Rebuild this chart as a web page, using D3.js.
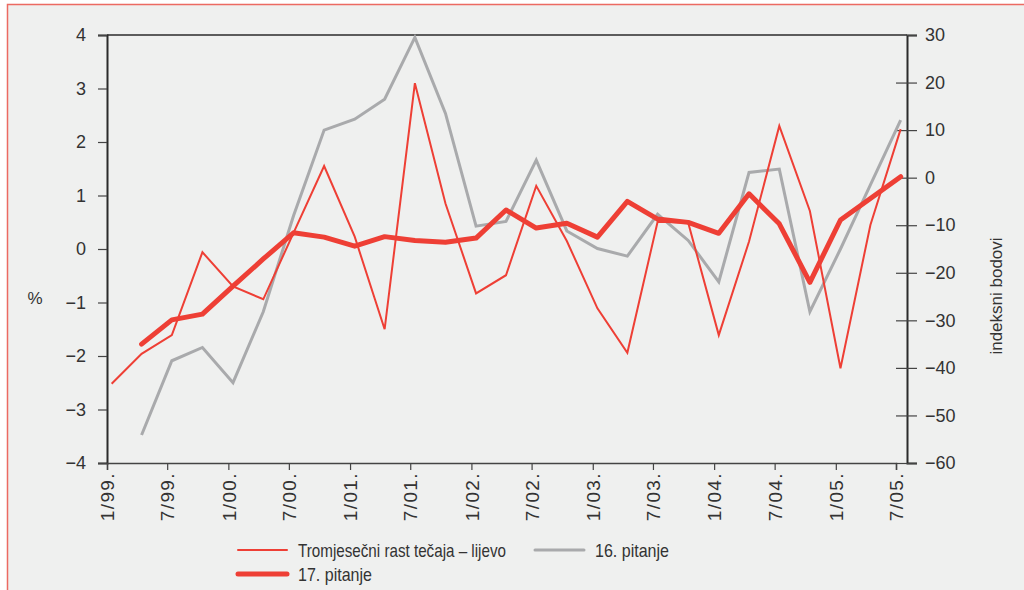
<!DOCTYPE html>
<html lang="hr">
<head>
<meta charset="UTF-8">
<title>Tečaj i očekivanja</title>
<script src="https://d3js.org/d3.v7.min.js"></script>
<style>
  html, body { margin: 0; padding: 0; background: #ffffff; }
  svg { display: block; font-family: "Liberation Sans", Arial, sans-serif; }
  .tick text { fill: #333; }
</style>
</head>
<body>
<svg id="chart" width="1024" height="590"></svg>
<script>
// quarterly observations (month/year)
const quarters = ["1/99","4/99","7/99","10/99","1/00","4/00","7/00","10/00","1/01","4/01","7/01","10/01",
                  "1/02","4/02","7/02","10/02","1/03","4/03","7/03","10/03","1/04","4/04","7/04","10/04",
                  "1/05","4/05","7/05"];
// Tromjesečni rast tečaja (%), left axis
const rastTecaja = [-2.52, -1.96, -1.61, -0.06, -0.70, -0.94, 0.30, 1.55, 0.23, -1.50, 3.10, 0.85,
                    -0.83, -0.49, 1.18, 0.15, -1.11, -1.94, 0.51, 0.49, -1.61, 0.14, 2.30, 0.71,
                    -2.23, 0.45, 2.24];
// 16. pitanje (indeksni bodovi), right axis
const pitanje16 = [null, -54.1, -38.5, -35.7, -43.1, -28.2, -8.0, 10.0, 12.3, 16.5, 29.5, 13.5,
                   -10.2, -9.2, 3.7, -11.2, -14.9, -16.5, -7.7, -13.2, -21.9, 1.1, 1.8, -28.2,
                   -15.0, -1.5, 12.1];
// 17. pitanje (indeksni bodovi), right axis
const pitanje17 = [null, -35.0, -29.9, -28.7, -22.8, -17.1, -11.6, -12.5, -14.4, -12.4, -13.2, -13.6,
                   -12.7, -6.8, -10.6, -9.6, -12.5, -5.0, -8.7, -9.4, -11.7, -3.4, -9.7, -22.0,
                   -8.9, -4.4, 0.2];
const leftTicks = [-4, -3, -2, -1, 0, 1, 2, 3, 4];
const rightTicks = [-60, -50, -40, -30, -20, -10, 0, 10, 20, 30];
const xTickLabels = ["1/99","7/99","1/00","7/00","1/01","7/01","1/02","7/02","1/03","7/03","1/04","7/04","1/05","7/05"];

const parseQ = s => { const [m, y] = s.split("/"); return new Date(2000 + (+y > 50 ? +y - 100 : +y), +m - 1, 15); };
const parseT = s => { const [m, y] = s.split("/"); return new Date(2000 + (+y > 50 ? +y - 100 : +y), +m - 1, 1); };

const svg = d3.select("#chart");
const red = "#ee3f35", grey = "#a9aaac", ink = "#2b2b2b";

// panel background and frame
svg.append("rect").attr("x", 7.5).attr("y", 4.5).attr("width", 1030).attr("height", 600)
   .attr("fill", "#eff0ef").attr("stroke", "#ec6a62").attr("stroke-width", 1.5);

const pLeft = 107, pRight = 907, pTop = 35, pBottom = 463;
const x = d3.scaleTime().domain([parseT("1/99"), parseT("7/05")]).range([pLeft, 896]);
const yL = d3.scaleLinear().domain([-4, 4]).range([pBottom, pTop]);
const yR = d3.scaleLinear().domain([-60, 30]).range([pBottom, pTop]);

// top frame line
svg.append("line").attr("x1", pLeft).attr("x2", pRight).attr("y1", pTop).attr("y2", pTop)
   .attr("stroke", ink).attr("stroke-width", 1.5);

// left axis
const gL = svg.append("g").attr("transform", `translate(${pLeft},0)`)
  .call(d3.axisLeft(yL).tickValues(leftTicks).tickSize(9).tickPadding(12));
gL.selectAll("text").attr("font-size", 18);

// right axis (ticks cross the line)
const gR = svg.append("g").attr("transform", `translate(${pRight},0)`)
  .call(d3.axisRight(yR).tickValues(rightTicks).tickSize(10).tickPadding(8));
gR.selectAll(".tick").filter(d => d !== 30).append("line")
  .attr("x1", -11).attr("x2", 0).attr("stroke", "currentColor");
gR.selectAll("text").attr("font-size", 18);

// bottom axis
const gB = svg.append("g").attr("transform", `translate(0,${pBottom})`)
  .call(d3.axisBottom(x).tickValues(xTickLabels.map(parseT)).tickSize(7)
        .tickFormat((d, i) => xTickLabels[i] + "."));
gB.selectAll("text").attr("font-size", 19).attr("letter-spacing", "1.4px")
  .attr("transform", "rotate(-90)").attr("text-anchor", "end")
  .attr("x", -9).attr("y", 0).attr("dy", "0.35em");

[gL, gR, gB].forEach(g => {
  g.selectAll(".domain").attr("stroke", ink).attr("stroke-width", 2);
  g.selectAll(".tick line").attr("stroke", "#444").attr("stroke-width", 1.2);
  g.selectAll("text").attr("fill", "#333");
});
gB.select(".domain").attr("stroke-width", 1.5).attr("stroke", "#444");

// series
const pts = quarters.map(parseQ);
const lineL = d3.line().defined(d => d[1] != null).x(d => x(d[0])).y(d => yL(d[1]));
const lineR = d3.line().defined(d => d[1] != null).x(d => x(d[0])).y(d => yR(d[1]));

svg.append("path").datum(pts.map((d, i) => [d, pitanje16[i]])).attr("d", lineR)
   .attr("fill", "none").attr("stroke", grey).attr("stroke-width", 3);
svg.append("path").datum(pts.map((d, i) => [d, rastTecaja[i]])).attr("d", lineL)
   .attr("fill", "none").attr("stroke", red).attr("stroke-width", 2);
svg.append("path").datum(pts.map((d, i) => [d, pitanje17[i]])).attr("d", lineR)
   .attr("fill", "none").attr("stroke", red).attr("stroke-width", 5)
   .attr("stroke-linecap", "round").attr("stroke-linejoin", "round");

// axis titles
svg.append("text").attr("x", 35).attr("y", 304).attr("text-anchor", "middle")
   .attr("font-size", 17).attr("fill", "#333").text("%");
svg.append("text").attr("transform", "translate(1002,296) rotate(-90)").attr("text-anchor", "middle")
   .attr("font-size", 17).attr("fill", "#333").text("indeksni bodovi");

// legend (condensed type as in the source)
const legend = [
  { label: "Tromjesečni rast tečaja – lijevo", color: red, w: 2, x: 238, y: 550, len: 208 },
  { label: "16. pitanje", color: grey, w: 3, x: 535, y: 550, len: 74 },
  { label: "17. pitanje", color: red, w: 5, x: 238, y: 574, len: 74 }
];
const lg = svg.append("g").selectAll("g").data(legend).enter().append("g");
lg.append("line").attr("x1", d => d.x).attr("x2", d => d.x + 49).attr("y1", d => d.y).attr("y2", d => d.y)
  .attr("stroke", d => d.color).attr("stroke-width", d => d.w).attr("stroke-linecap", "round");
lg.append("text").attr("x", d => d.x + 60).attr("y", d => d.y + 7)
  .attr("font-size", 19).attr("fill", "#333")
  .attr("textLength", d => d.len).attr("lengthAdjust", "spacingAndGlyphs")
  .text(d => d.label);
</script>
</body>
</html>
